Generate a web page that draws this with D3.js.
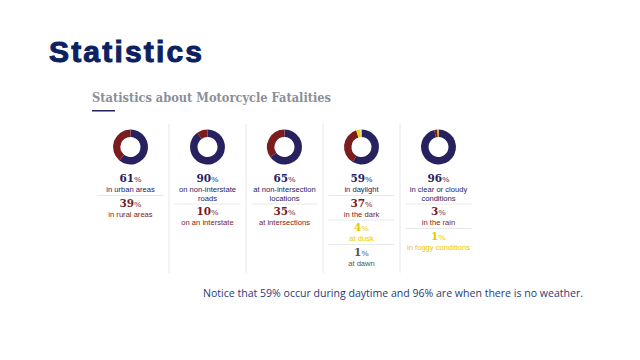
<!DOCTYPE html>
<html><head><meta charset="utf-8">
<script src="https://cdn.jsdelivr.net/npm/d3@7"></script>
<style>body{margin:0;background:#fff}</style>
</head><body>
<svg id="c" width="640" height="360"></svg>
<script>
const categories = ["Area", "Road type", "Location", "Light", "Weather"];
const values = [[61,39],[90,10],[65,35],[59,37,4,1],[96,3,1]];
const labels = [
  [["in urban areas"],["in rural areas"]],
  [["on non-interstate","roads"],["on an interstate"]],
  [["at non-intersection","locations"],["at intersections"]],
  [["in daylight"],["in the dark"],["at dusk"],["at dawn"]],
  [["in clear or cloudy","conditions"],["in the rain"],["in foggy conditions"]]
];
const colors = ["#27215f","#7b1c1e","#f2d40c","#d9d9d9"];
const textColors = ["#27215f","#7b1c1e","#e8c800","#555555"];

const svg = d3.select("#c");
svg.append("text").attr("x",49).attr("y",62).text("Statistics")
  .attr("font-family","Liberation Sans, Arial, sans-serif").attr("font-weight","bold")
  .attr("font-size",30).attr("fill","#0b2160").attr("stroke","#0b2160").attr("stroke-width",1)
  .attr("textLength",153).attr("lengthAdjust","spacing");
svg.append("text").attr("x",92).attr("y",102).text("Statistics about Motorcycle Fatalities")
  .attr("font-family","DejaVu Serif, Georgia, serif").attr("font-weight","bold")
  .attr("font-size",12).attr("fill","#8a8f99")
  .attr("textLength",239).attr("lengthAdjust","spacingAndGlyphs");
svg.append("rect").attr("x",92).attr("y",110).attr("width",23).attr("height",1.5).attr("fill","#27215f");

const x = d3.scaleBand().domain(categories).range([92,477]);
categories.slice(1).forEach(c=>{
  svg.append("line").attr("x1",x(c)).attr("x2",x(c)).attr("y1",124).attr("y2",273)
    .attr("stroke","#e6e8ea").attr("stroke-width",1);
});
const pie = d3.pie().sort(null).value(d=>d);
const arc = d3.arc().innerRadius(10).outerRadius(17.5);

categories.forEach((c,i)=>{
  const cx = x(c)+x.bandwidth()/2;
  const g = svg.append("g").attr("transform",`translate(${cx},147)`);
  g.selectAll("path").data(pie(values[i])).join("path")
    .attr("d",arc).attr("fill",(d,j)=>colors[j]);
  let y = 182;
  values[i].forEach((v,j)=>{
    const t = svg.append("text").attr("x",cx).attr("y",y).attr("text-anchor","middle")
      .attr("fill",textColors[j]).attr("font-family","DejaVu Serif, Georgia, serif");
    t.append("tspan").text(v).attr("font-size",10.5).attr("font-weight","bold");
    t.append("tspan").text("%").attr("font-size",8);
    y += 10;
    labels[i][j].forEach(l=>{
      svg.append("text").attr("x",cx).attr("y",y).attr("text-anchor","middle")
        .attr("fill",textColors[j]).attr("font-family","Liberation Sans, Arial, sans-serif")
        .attr("font-size",7.6).text(l);
      y += 8.5;
    });
    if (j < values[i].length-1) {
      svg.append("line").attr("x1",cx-33).attr("x2",cx+33).attr("y1",y-5).attr("y2",y-5)
        .attr("stroke","#e6e8ea").attr("stroke-width",1);
      y += 6;
    }
  });
});

svg.append("text").attr("x",203).attr("y",297)
  .text("Notice that 59% occur during daytime and 96% are when there is no weather.")
  .attr("font-family","Open Sans, sans-serif").attr("font-size",10).attr("fill","#1f3a7a")
  .attr("textLength",380).attr("lengthAdjust","spacingAndGlyphs");
</script>
</body></html>
